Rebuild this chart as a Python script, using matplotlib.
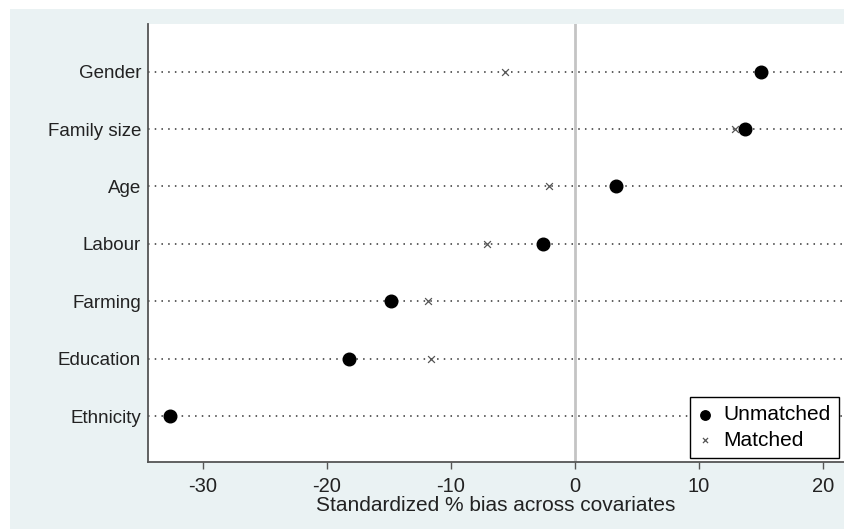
import matplotlib
matplotlib.use("Agg")
import matplotlib.pyplot as plt
from matplotlib.patches import Rectangle

covariates = ["Gender", "Family size", "Age", "Labour", "Farming", "Education", "Ethnicity"]
unmatched = [15.0, 13.7, 3.3, -2.6, -14.8, -18.2, -32.6]
matched = [-5.6, 12.9, -2.1, -7.1, -11.8, -11.6, 12.0]
xticks = [-30, -20, -10, 0, 10, 20]

plt.rcParams['font.family'] = ['Liberation Sans', 'DejaVu Sans']

W, H = 844, 529
fig = plt.figure(figsize=(W / 100, H / 100), dpi=100)
fig.patch.set_facecolor('white')
fig.add_artist(Rectangle((10 / W, 0), 1 - 10 / W, 1 - 9 / H, transform=fig.transFigure,
                         facecolor='#eaf2f3', edgecolor='none', zorder=0))

ax = fig.add_axes([148 / W, (H - 462) / H, (W - 148) / W, (462 - 24) / H])
ax.set_facecolor('white')

n = len(covariates)
ypos = [n - i for i in range(n)]

for y in ypos:
    ax.axhline(y, color='#333333', lw=1.1, linestyle=(0, (1, 3.4)), zorder=1)
ax.axvline(0, color='#c4c4c4', lw=2.0, zorder=1.5)

ax.scatter(matched, ypos, marker='x', s=24, color='#555555', linewidths=0.9, zorder=3, label='Matched')
ax.scatter(unmatched, ypos, marker='o', s=82, color='black', zorder=4, label='Unmatched')

ax.set_xlim(-34.4, 21.7)
ax.set_ylim(0.2, n + 0.83)
ax.set_yticks(ypos)
ax.set_yticklabels(covariates, fontsize=13.5, color='#222222')
ax.tick_params(axis='y', length=0, pad=5)
ax.set_xticks(xticks)
ax.set_xticklabels([str(t) for t in xticks], fontsize=14.5, color='#222222')
ax.tick_params(axis='x', length=5, width=1, color='#555555', pad=6)
ax.set_xlabel('Standardized % bias across covariates', fontsize=15, color='#222222', labelpad=0)

for s in ['top', 'right']:
    ax.spines[s].set_visible(False)
for s in ['left', 'bottom']:
    ax.spines[s].set_color('#555555')
    ax.spines[s].set_linewidth(1.3)

handles, labels = ax.get_legend_handles_labels()
leg = ax.legend([handles[1], handles[0]], [labels[1], labels[0]],
                loc='upper right', bbox_to_anchor=(839 / W, 1 - 397 / H),
                bbox_transform=fig.transFigure, fontsize=15, frameon=True,
                fancybox=False, edgecolor='black', framealpha=1,
                handlelength=0.6, handletextpad=0.6, borderpad=0.4, labelspacing=0.3,
                borderaxespad=0, markerscale=0.75)
leg.get_frame().set_linewidth(1.0)
leg.set_zorder(10)

fig.savefig('out.png', dpi=100, facecolor=fig.get_facecolor())
